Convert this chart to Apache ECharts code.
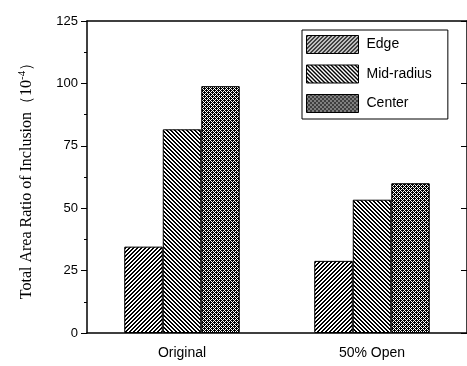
<!DOCTYPE html>
<html>
<head>
<meta charset="utf-8">
<script src="https://cdn.jsdelivr.net/npm/echarts@6/dist/echarts.min.js"></script>
<style>html,body{margin:0;padding:0;background:#fff;}#c{width:467px;height:366px;}</style>
</head>
<body>
<div id="c"></div>
<script>
var categories = ['Original', '50% Open'];
var seriesNames = ['Edge', 'Mid-radius', 'Center'];
var edgeValues = [34.6, 28.9];
var midValues = [81.6, 53.4];
var centerValues = [98.9, 60.0];
var yTicks = [0, 25, 50, 75, 100, 125];

function makePattern(size, fn) {
  var cv = document.createElement('canvas');
  cv.width = size; cv.height = size;
  var ctx = cv.getContext('2d');
  ctx.fillStyle = '#ffffff';
  ctx.fillRect(0, 0, size, size);
  ctx.fillStyle = '#000000';
  for (var y = 0; y < size; y++) {
    for (var x = 0; x < size; x++) {
      if (fn(x, y)) ctx.fillRect(x, y, 1, 1);
    }
  }
  return { image: cv, repeat: 'repeat' };
}
var edgePat = makePattern(4, function (x, y) { return ((x + y) % 4) < 2; });
var midPat = makePattern(4, function (x, y) { return (((x - y) % 4) + 4) % 4 < 2; });
var centerPat = makePattern(4, function (x, y) { return ((x + y) % 2 === 1) || (x === 0 && y === 0) || (x === 2 && y === 2); });
var patterns = [edgePat, midPat, centerPat];
var dataSets = [edgeValues, midValues, centerValues];

var chart = echarts.init(document.getElementById('c'), null, { renderer: 'canvas' });
var series = seriesNames.map(function (n, i) {
  return {
    name: n,
    type: 'bar',
    xAxisIndex: 0,
    yAxisIndex: 0,
    data: dataSets[i],
    barWidth: 38.5,
    barGap: '0%',
    itemStyle: { color: patterns[i], borderColor: '#000', borderWidth: 1 },
    emphasis: { disabled: true },
    animation: false
  };
});

chart.setOption({
  animation: false,
  backgroundColor: '#fff',
  grid: { left: 87, top: 21, width: 382, height: 312 },
  legend: {
    data: seriesNames,
    orient: 'vertical',
    icon: 'rect',
    left: 302, top: 30,
    padding: [5, 16, 6, 4],
    itemWidth: 52, itemHeight: 18, itemGap: 10.5,
    backgroundColor: '#fff',
    borderColor: '#000', borderWidth: 1,
    textStyle: { fontFamily: 'Liberation Sans, Arial', fontSize: 14, color: '#000', padding: [0, 0, 0, 3] },
    itemStyle: { borderColor: '#000', borderWidth: 1 },
    selectedMode: false
  },
  xAxis: [
    {
      type: 'category', data: categories, position: 'bottom',
      axisLine: { lineStyle: { color: '#000', width: 1.5 } },
      axisTick: { alignWithLabel: true, length: 6, lineStyle: { color: '#000', width: 1 } },
      axisLabel: { fontFamily: 'Liberation Sans, Arial', fontSize: 14, color: '#000', margin: 13 },
      splitLine: { show: false }
    },
    {
      type: 'category', data: categories, position: 'bottom', gridIndex: 0,
      axisLine: { show: false },
      axisTick: { alignWithLabel: false, length: 4, lineStyle: { color: '#000', width: 1 } },
      axisLabel: { show: false },
      splitLine: { show: false }
    },
    {
      type: 'category', data: categories, position: 'top', gridIndex: 0,
      axisLine: { lineStyle: { color: '#000', width: 1.5 } },
      axisTick: { alignWithLabel: true, inside: true, length: 6, lineStyle: { color: '#000', width: 1 } },
      axisLabel: { show: false },
      splitLine: { show: false }
    }
  ],
  yAxis: [
    {
      type: 'value', min: yTicks[0], max: yTicks[yTicks.length - 1], interval: 25,
      name: 'Total Area Ratio of Inclusion（10{sup|-4}）',
      nameLocation: 'middle', nameGap: 50, nameRotate: 90,
      nameTextStyle: { fontFamily: 'Liberation Serif, Times New Roman', fontSize: 16, color: '#000',
        rich: { sup: { fontFamily: 'Liberation Serif', fontSize: 11, color: '#000', verticalAlign: 'top', padding: [0, 0, 9, 0] } } },
      axisLine: { show: true, lineStyle: { color: '#000', width: 1.5 } },
      axisTick: { show: true, length: 6, lineStyle: { color: '#000', width: 1 } },
      minorTick: { show: true, splitNumber: 2, length: 3, lineStyle: { color: '#000', width: 1 } },
      axisLabel: { fontFamily: 'Liberation Sans, Arial', fontSize: 13, color: '#000', margin: 9 },
      splitLine: { show: false }
    },
    {
      type: 'value', min: yTicks[0], max: yTicks[yTicks.length - 1], interval: 25, position: 'right',
      axisLine: { show: true, lineStyle: { color: '#000', width: 1.5 } },
      axisTick: { show: true, inside: true, length: 6, lineStyle: { color: '#000', width: 1 } },
      axisLabel: { show: false },
      splitLine: { show: false }
    }
  ],
  series: series
});
</script>
</body>
</html>
